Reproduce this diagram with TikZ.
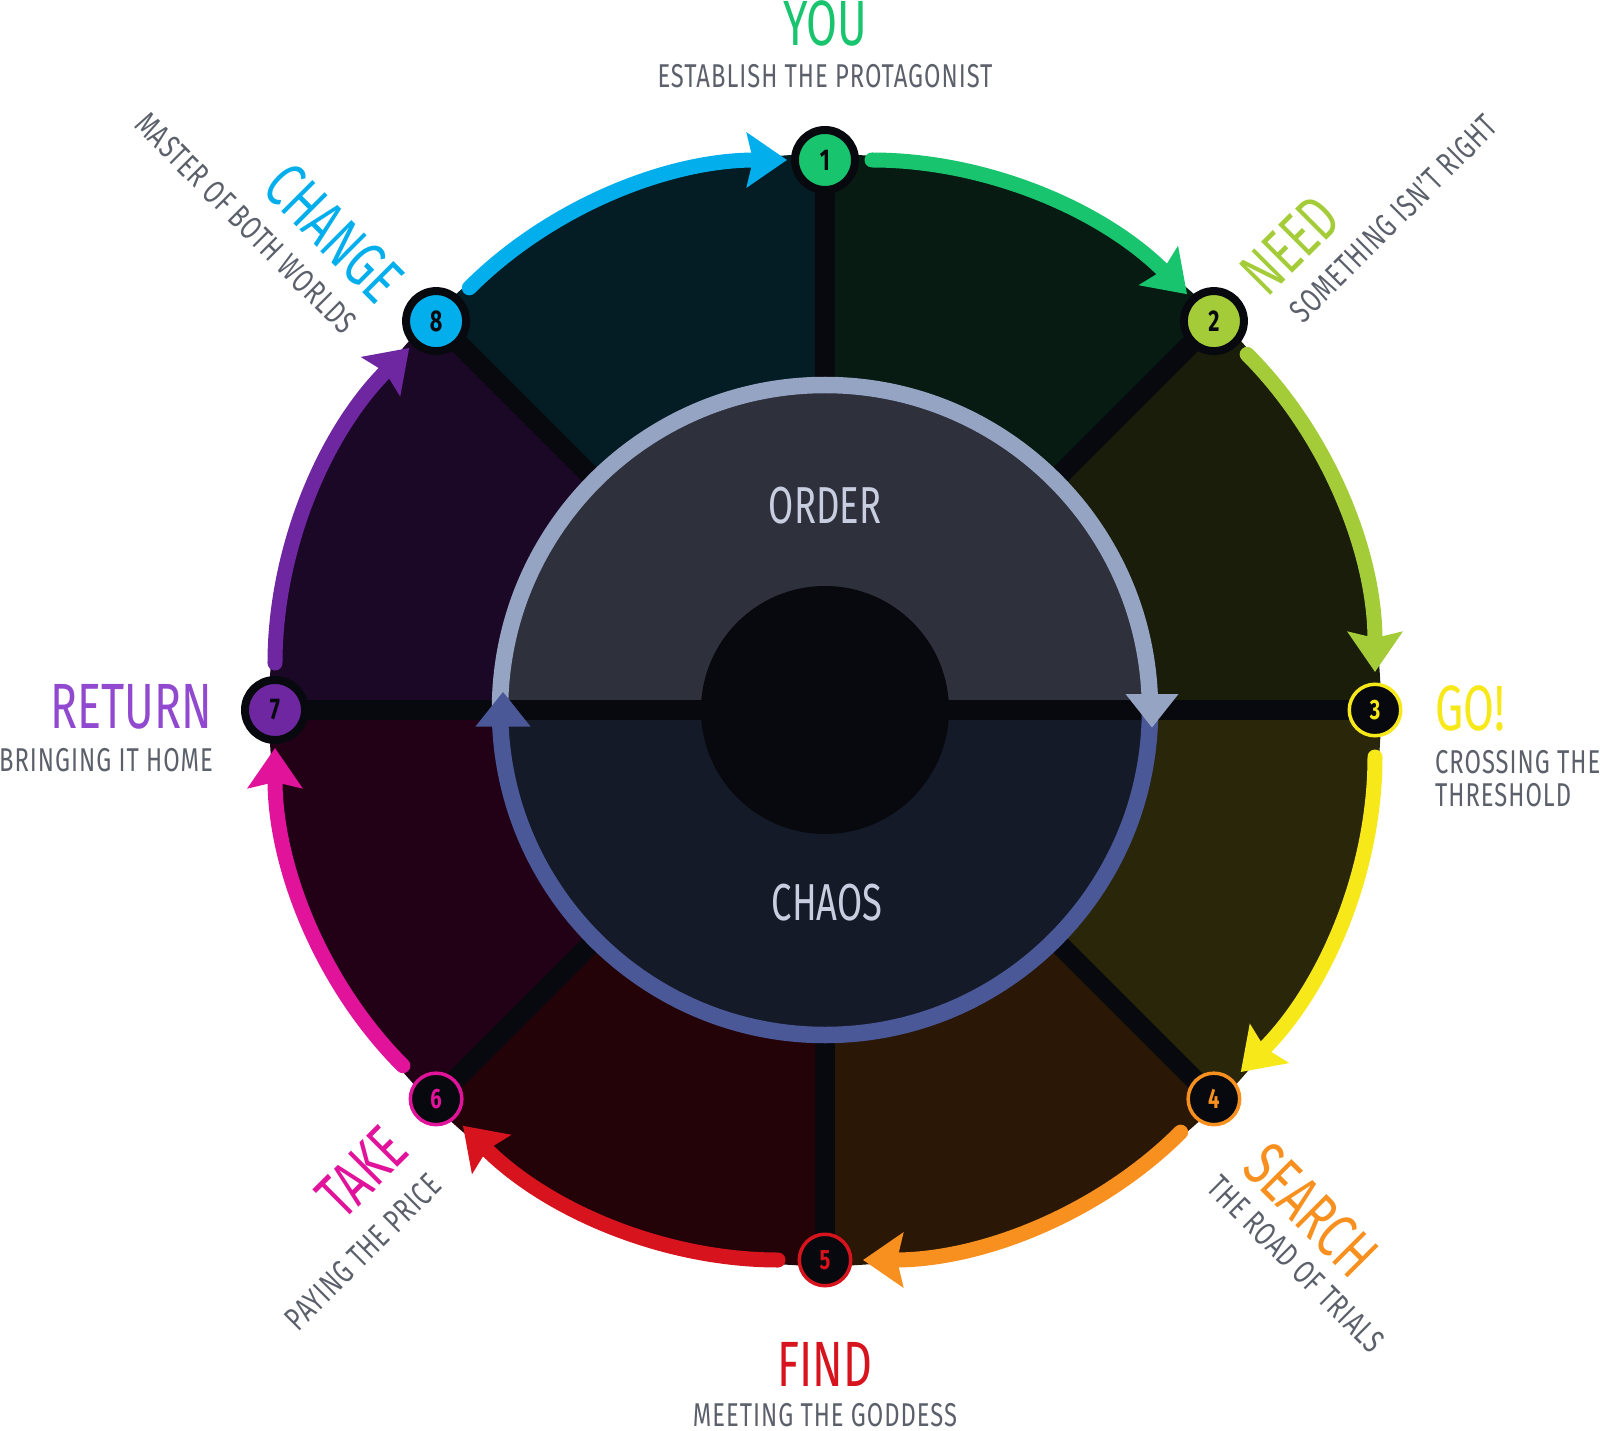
\documentclass[tikz,border=0pt]{standalone}
\usepackage{fontspec}
\usetikzlibrary{arrows.meta}
\setmainfont{Fira Sans}
\newfontfamily\ttlfnt[FakeStretch=0.7]{Fira Sans}
\newfontfamily\subfnt[FakeStretch=0.72,LetterSpace=3]{Fira Sans}
\newfontfamily\numfnt[FakeStretch=0.72,Numbers=Lining]{Fira Sans}
\definecolor{cYou}{HTML}{19C46E}
\definecolor{cNeed}{HTML}{A4CC39}
\definecolor{cGo}{HTML}{F7E81A}
\definecolor{cSearch}{HTML}{F7901E}
\definecolor{cFind}{HTML}{D7141E}
\definecolor{cTake}{HTML}{E0139A}
\definecolor{cReturn}{HTML}{6E27A0}
\definecolor{cReturnT}{HTML}{9149CF}
\definecolor{cChange}{HTML}{03AEED}
\definecolor{cGray}{HTML}{5B606B}
\definecolor{cDark}{HTML}{07090E}
\definecolor{wA}{HTML}{071B13}
\definecolor{wB}{HTML}{191D0A}
\definecolor{wC}{HTML}{2A2609}
\definecolor{wD}{HTML}{2A1705}
\definecolor{wE}{HTML}{230308}
\definecolor{wF}{HTML}{220117}
\definecolor{wG}{HTML}{1B0826}
\definecolor{wH}{HTML}{041C24}
\definecolor{cTopFill}{HTML}{2E313C}
\definecolor{cBotFill}{HTML}{151A29}
\definecolor{cRingTop}{HTML}{96A4C4}
\definecolor{cRingBot}{HTML}{4B5897}
\definecolor{cInner}{HTML}{C8CEE0}
\begin{document}
\begin{tikzpicture}[x=1pt,y=1pt,
  spoke/.style={draw=cDark, line width=20pt},
  thicknode/.style={circle, minimum size=60pt, inner sep=0pt, line width=8pt, draw=cDark, fill=#1, outer sep=8pt, font=\numfnt\bfseries\fontsize{30}{30}\selectfont, text=cDark},
  thinnode/.style={circle, minimum size=51.5pt, inner sep=0pt, line width=3.5pt, draw=#1, fill=cDark, outer sep=12.25pt, font=\numfnt\bfseries\fontsize{28}{28}\selectfont, text=#1},
  link/.style={draw=#1, line width=15pt, line cap=round, -{Stealth[length=40pt,width=54pt,inset=6pt]}, shorten <=9pt, bend left=22.5, looseness=0.885},
  title/.style={font=\ttlfnt\fontsize{64}{64}\selectfont, inner sep=0pt, text=#1},
  subtitle/.style={font=\subfnt\fontsize{33}{33}\selectfont, inner sep=0pt, text=cGray},
  inner/.style={font=\ttlfnt\fontsize{52}{52}\selectfont, inner sep=0pt, text=cInner}
]
\useasboundingbox (-825,-720) rectangle (775,710);
\coordinate (c) at (0,0);
\foreach \i in {1,...,8} { \coordinate (p\i) at ({90-45*(\i-1)}:550); }
% wedges
\foreach \a/\col in {90/wA, 45/wB, 0/wC, -45/wD, -90/wE, -135/wF, -180/wG, -225/wH}
  { \fill[\col] (c) -- (\a:556) arc[start angle=\a, end angle=\a-45, radius=556] -- cycle; }
% spokes
\foreach \i in {1,2,4,5,6,8} { \draw[spoke] (c) -- (p\i); }
% inner circle
\fill[cTopFill] (180:325) arc[start angle=180, end angle=0, radius=325] -- cycle;
\fill[cBotFill] (0:325) arc[start angle=0, end angle=-180, radius=325] -- cycle;
\draw[spoke] (p7) -- (p3);
\fill[cDark] (c) circle[radius=124];
\draw[cRingTop, line width=16.5pt] (180:325) arc[start angle=180, end angle=0, radius=325];
\draw[cRingBot, line width=16.5pt] (0:325) arc[start angle=0, end angle=-180, radius=325];
\fill[cRingTop] (327,-17.5) -- (300.5,16) -- (353.5,16) -- cycle;
\fill[cRingBot] (-322,18) -- (-349.5,-16.5) -- (-294.5,-16.5) -- cycle;
\node[inner] (order) at (0,204) {ORDER};
\node[inner] (chaos) at (2,-193) {CHAOS};
% nodes
\node[thicknode=cYou] (n1) at (p1) {1};
\node[thicknode=cNeed] (n2) at (p2) {2};
\node[thinnode=cGo] (n3) at (p3) {3};
\node[thinnode=cSearch] (n4) at (p4) {4};
\node[thinnode=cFind] (n5) at (p5) {5};
\node[thinnode=cTake] (n6) at (p6) {6};
\node[thicknode=cReturn] (n7) at (p7) {7};
\node[thicknode=cChange] (n8) at (p8) {8};
% connectors
\draw[link=cYou] (n1) to (n2);
\draw[link=cNeed] (n2) to (n3);
\draw[link=cGo] (n3) to (n4);
\draw[link=cSearch] (n4) to (n5);
\draw[link=cFind] (n5) to (n6);
\draw[link=cTake] (n6) to (n7);
\draw[link=cReturn] (n7) to (n8);
\draw[link=cChange] (n8) to (n1);
% labels
\node[title=cYou] (t1) at (0,687) {YOU};
\node[subtitle] (s1) at (0,634) {ESTABLISH THE PROTAGONIST};
\node[title=cNeed, rotate=45] (t2) at (465,465) {NEED};
\node[subtitle, rotate=45] (s2) at (568,492) {SOMETHING ISN’T RIGHT};
\node[title=cGo, anchor=west] (t3) at (610,2) {GO!};
\node[subtitle, anchor=west] (s3a) at (610,-52) {CROSSING THE};
\node[subtitle, anchor=west] (s3b) at (610,-85) {THRESHOLD};
\node[title=cSearch, rotate=-45] (t4) at (486,-500) {SEARCH};
\node[subtitle, rotate=-45] (s4) at (471,-554) {THE ROAD OF TRIALS};
\node[title=cFind] (t5) at (0,-654) {FIND};
\node[subtitle] (s5) at (0,-705) {MEETING THE GODDESS};
\node[title=cTake, rotate=45] (t6) at (-463,-462) {TAKE};
\node[subtitle, rotate=45] (s6) at (-462,-542) {PAYING THE PRICE};
\node[title=cReturnT, anchor=east] (t7) at (-613,3) {RETURN};
\node[subtitle, anchor=east] (s7) at (-612,-50) {BRINGING IT HOME};
\node[title=cChange, rotate=-45] (t8) at (-491,477) {CHANGE};
\node[subtitle, rotate=-45] (s8) at (-579,487) {MASTER OF BOTH WORLDS};
\end{tikzpicture}
\end{document}
